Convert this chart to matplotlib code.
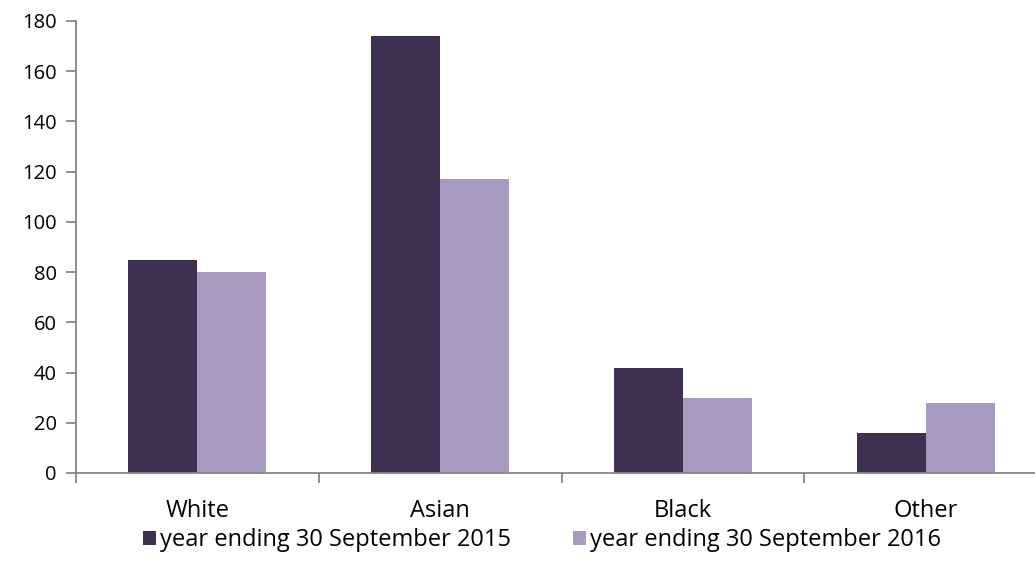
import matplotlib
matplotlib.use("Agg")
import matplotlib.pyplot as plt
import numpy as np

categories = ["White", "Asian", "Black", "Other"]
series_names = ["year ending 30 September 2015", "year ending 30 September 2016"]
values_2015 = [85, 174, 42, 16]
values_2016 = [80, 117, 30, 28]
y_ticks = [0, 20, 40, 60, 80, 100, 120, 140, 160, 180]
colors = ["#403151", "#A99BBF"]

plt.rcParams['font.family'] = ['Open Sans', 'DejaVu Sans']

fig = plt.figure(figsize=(10.35, 5.78), dpi=100)
ax = fig.add_axes([76/1035, 1 - 473/578, (1047 - 76)/1035, (473 - 21)/578])

x = np.arange(len(categories))
w = 69/243
ax.bar(x - w/2, values_2015, width=w, color=colors[0], label=series_names[0])
ax.bar(x + w/2, values_2016, width=w, color=colors[1], label=series_names[1])

ax.set_xlim(-0.5, len(categories) - 0.5)
ax.set_ylim(0, 180)
ax.set_yticks(y_ticks)
ax.set_yticklabels([str(v) for v in y_ticks], fontsize=14.5)

ax.set_xticks(x)
ax.set_xticklabels(categories, fontsize=17)
ax.tick_params(axis='x', length=0, pad=19)
ax.set_xticks(np.arange(-0.5, len(categories) + 0.5, 1), minor=True)
ax.tick_params(axis='x', which='minor', length=7, color='#868686', width=1.3)
ax.tick_params(axis='y', length=7, color='#868686', width=1.3, pad=7)

for s in ['top', 'right']:
    ax.spines[s].set_visible(False)
for s in ['left', 'bottom']:
    ax.spines[s].set_color('#868686')
    ax.spines[s].set_linewidth(1.3)

leg = fig.legend(handles=ax.containers, labels=series_names, loc='center',
                 bbox_to_anchor=(542/1035, 1 - 540/578), ncol=2, frameon=False,
                 fontsize=17, handlelength=0.55, handleheight=0.55,
                 handletextpad=0.2, columnspacing=2.6)

fig.savefig("out.png", dpi=100)
